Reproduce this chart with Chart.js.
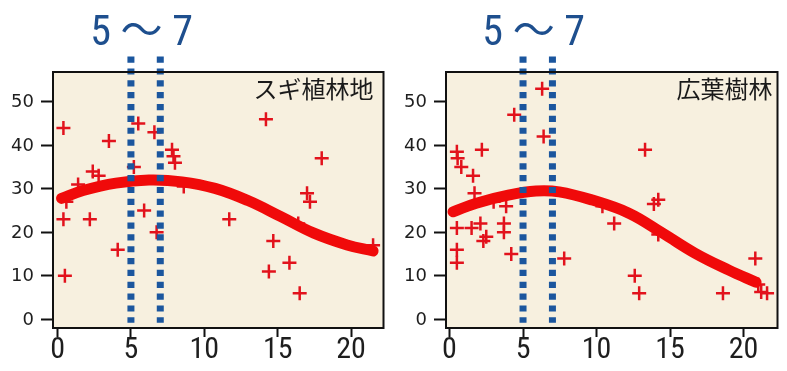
<!DOCTYPE html>
<html>
<head>
<meta charset="utf-8">
<script src="https://cdn.jsdelivr.net/npm/chart.js@4/dist/chart.umd.min.js"></script>
<style>
  html, body { margin: 0; padding: 0; background: #ffffff; }
  body { position: relative; width: 787px; height: 371px; overflow: hidden; }
  canvas { position: absolute; top: 0; }
</style>
</head>
<body>
<canvas id="sugi" width="393" height="371" style="left:0px"></canvas>
<canvas id="kouyou" width="394" height="371" style="left:393px"></canvas>
<script>
// ---- data ----
const panelTitles = ['スギ植林地', '広葉樹林'];
const rangeLines = [5, 7];
const rangeLabel = '5 〜 7';
const xTickValues = [0, 5, 10, 15, 20];
const xTickLabels = ['0', '5', '10', '15', '20'];
const yTickValues = [0, 10, 20, 30, 40, 50];
const yTickLabels = ['0', '10', '20', '30', '40', '50'];

// スギ植林地: observations
const sugiX = [0.4, 5.5, 6.6, 3.5, 14.2, 7.8, 7.9, 8.0, 18.0, 5.2, 2.4, 2.8, 1.4, 8.6, 0.6,
               0.4, 2.2, 5.9, 11.7, 6.75, 4.1, 14.7, 0.5, 14.4, 15.8, 16.5, 17.0, 17.2, 16.4, 21.5];
const sugiY = [44, 45, 43, 41, 46, 39, 37.5, 36, 37, 35, 34, 33, 31, 30.5, 27,
               23, 23, 25, 23, 20, 16, 18, 10, 11, 13, 6, 29, 27, 22, 17];
// スギ植林地: fitted curve
const sugiFitX = [0.27, 1.74, 3.98, 6.23, 8.48, 10.73, 12.97, 15.22, 17.47, 19.73, 21.5];
const sugiFitY = [27.8, 29.6, 31.3, 32.0, 31.6, 30.1, 27.3, 23.6, 19.8, 17.1, 15.7];

// 広葉樹林: observations
const kouyouX = [6.3, 4.4, 6.4, 13.3, 2.2, 0.5, 0.55, 0.8, 1.6, 1.7, 3.0, 3.85, 10.4, 13.9, 14.2,
                 0.5, 1.5, 2.1, 3.7, 3.7, 2.5, 2.3, 11.2, 0.5, 0.5, 4.2, 7.8, 12.6, 12.9, 14.2,
                 20.8, 18.6, 21.0, 21.2, 21.6];
const kouyouY = [53, 47, 42, 39, 39, 38.5, 37, 35, 33, 29, 27, 26, 26, 26.5, 27.5,
                 21, 21, 22, 22, 20, 19, 18, 22, 16, 13, 15, 14, 10, 6, 19.5,
                 14, 6, 8, 6.3, 6];
// 広葉樹林: fitted curve
const kouyouFitX = [0.24, 1.82, 4.07, 5.88, 7.46, 9.72, 12.2, 14.5, 16.7, 19.0, 20.85];
const kouyouFitY = [24.7, 26.7, 28.6, 29.5, 29.3, 27.4, 24.4, 19.8, 15.2, 11.3, 8.5];

// ---- styling ----
const PLOT_BG = '#f7f0df';
const FRAME = '#111111';
const TEXT = '#1e1e1e';
const CROSS_RED = '#e2121c';
const CURVE_RED = '#f00a0a';
const GUIDE_BLUE = '#1b569e';
const LABEL_BLUE = '#1e4f8e';
const NARROW = '"Roboto Condensed", "Noto Sans CJK JP", sans-serif';
const Y_FONT = '"DejaVu Sans", "Liberation Sans", sans-serif';
const CJK = '"Noto Sans CJK JP", sans-serif';
const Y_TICK_LEN = 12;
const Y_TICK_PAD = 7;

const zip = (xs, ys) => xs.map((x, i) => ({ x, y: ys[i] }));

// panel background, frame, y tick labels and the annotation texts
const panelPlugin = {
  id: 'panel',
  beforeDraw(chart) {
    const { ctx, chartArea: a } = chart;
    ctx.save();
    ctx.fillStyle = PLOT_BG;
    ctx.fillRect(a.left, a.top, a.right - a.left, a.bottom - a.top);
    ctx.restore();
  },
  afterDatasetsDraw(chart) {
    const { ctx, chartArea: a } = chart;
    ctx.save();
    ctx.strokeStyle = FRAME;
    ctx.lineWidth = 2;
    ctx.strokeRect(a.left, a.top, a.right - a.left, a.bottom - a.top);
    ctx.restore();
  },
  afterDraw(chart, args, opts) {
    const { ctx, chartArea: a } = chart;
    const xs = chart.scales.x;
    const ys = chart.scales.y;
    ctx.save();
    // y tick labels, placed by the y scale
    ctx.fillStyle = TEXT;
    ctx.font = '18px ' + Y_FONT;
    ctx.textAlign = 'right';
    ctx.textBaseline = 'middle';
    yTickValues.forEach((v, i) => {
      ctx.fillText(yTickLabels[i], ys.left + ys.width - Y_TICK_LEN - Y_TICK_PAD, ys.getPixelForValue(v) + 1);
    });
    // panel title
    ctx.fillStyle = '#1a1a1a';
    ctx.font = '24px ' + CJK;
    ctx.textAlign = 'right';
    ctx.textBaseline = 'middle';
    ctx.fillText(opts.title, a.right - opts.titleInset, 89);
    // range label above the guide lines
    const cx = (xs.getPixelForValue(rangeLines[0]) + xs.getPixelForValue(rangeLines[1])) / 2 - 4;
    ctx.fillStyle = LABEL_BLUE;
    ctx.font = '42px ' + NARROW;
    ctx.textAlign = 'center';
    ctx.textBaseline = 'alphabetic';
    ctx.fillText(rangeLabel, cx, 45);
    ctx.restore();
  }
};

function makePanel(id, title, xs, ys, fitX, fitY, xMin, xMax, padRight, titleInset) {
  const guides = rangeLines.map(v => ({
    data: [{ x: v, y: 60.4 }, { x: v, y: -0.8 }],
    showLine: true,
    borderColor: GUIDE_BLUE,
    borderWidth: 7,
    borderDash: [6.2, 5.65],
    borderCapStyle: 'butt',
    pointRadius: 0,
    clip: false,
    order: 0
  }));
  return new Chart(document.getElementById(id), {
    type: 'scatter',
    data: {
      datasets: [
        {
          data: zip(xs, ys),
          pointStyle: 'cross',
          pointRadius: 7,
          borderWidth: 2.5,
          borderColor: CROSS_RED,
          backgroundColor: CROSS_RED,
          order: 2
        },
        {
          data: zip(fitX, fitY),
          showLine: true,
          tension: 0.4,
          borderColor: CURVE_RED,
          borderWidth: 11,
          borderCapStyle: 'round',
          borderJoinStyle: 'round',
          pointRadius: 0,
          order: 1
        },
        ...guides
      ]
    },
    options: {
      responsive: false,
      animation: false,
      events: [],
      layout: { padding: { left: 0, right: padRight, top: 72, bottom: 0 } },
      plugins: {
        legend: { display: false },
        tooltip: { enabled: false },
        panel: { title, titleInset }
      },
      scales: {
        x: {
          type: 'linear',
          min: xMin,
          max: xMax,
          afterFit(s) { s.height = 43; },
          afterBuildTicks(s) { s.ticks = xTickValues.map(v => ({ value: v })); },
          grid: {
            drawOnChartArea: false,
            drawTicks: true,
            tickLength: 9,
            tickWidth: 2,
            tickColor: FRAME
          },
          border: { display: true, color: FRAME, width: 2 },
          ticks: {
            autoSkip: false,
            maxRotation: 0,
            padding: 1,
            color: TEXT,
            font: { family: NARROW, size: 30, lineHeight: 0.8 },
            callback: (v) => xTickLabels[xTickValues.indexOf(v)]
          }
        },
        y: {
          type: 'linear',
          min: -2.0,
          max: 56.85,
          afterFit(s) { s.width = 53; },
          afterBuildTicks(s) { s.ticks = yTickValues.map(v => ({ value: v })); },
          grid: {
            drawOnChartArea: false,
            drawTicks: true,
            tickLength: Y_TICK_LEN,
            tickWidth: 2,
            tickColor: FRAME
          },
          border: { display: true, color: FRAME, width: 2 },
          ticks: { display: false }
        }
      }
    },
    plugins: [panelPlugin]
  });
}

makePanel('sugi', panelTitles[0], sugiX, sugiY, sugiFitX, sugiFitY, -0.31, 22.21, 6, 10);
makePanel('kouyou', panelTitles[1], kouyouX, kouyouY, kouyouFitX, kouyouFitY, -0.24, 22.31, 8, 5);
</script>
</body>
</html>
